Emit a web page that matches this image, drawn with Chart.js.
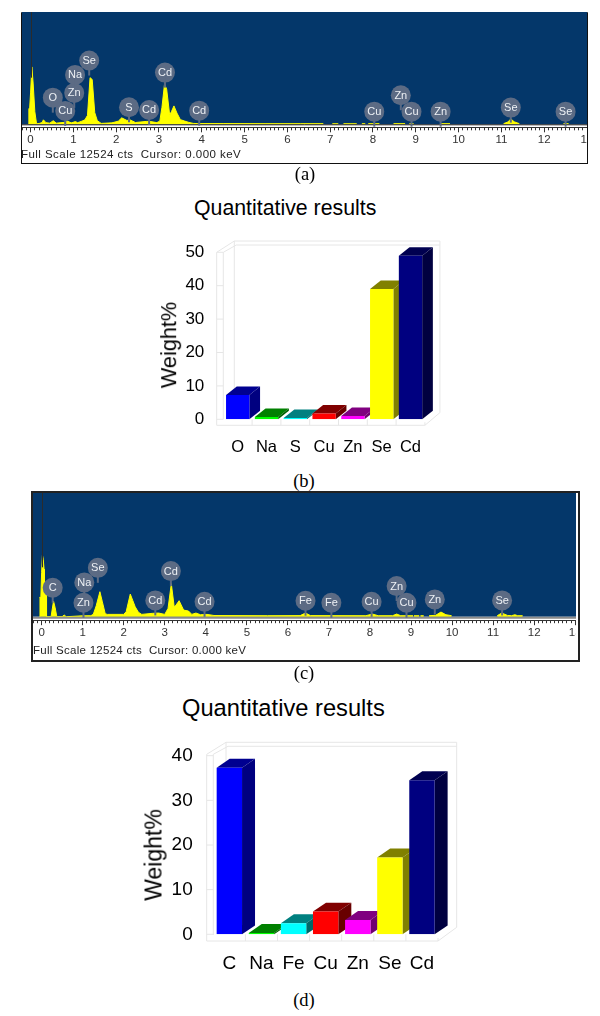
<!DOCTYPE html>
<html>
<head>
<meta charset="utf-8">
<title>EDX spectra and quantitative results</title>
<script src="https://cdn.jsdelivr.net/npm/chart.js@4/dist/chart.umd.min.js"></script>
<style>
  html, body { margin: 0; padding: 0; background: #fff; }
  body { position: relative; width: 600px; height: 1016px; overflow: hidden; font-family: "Liberation Sans", Arial, sans-serif; }
  canvas, .frame, .txt { position: absolute; }
  .txt { white-space: nowrap; color: #000; line-height: 1; }
  .caption { font-family: "Liberation Serif", serif; font-size: 18.5px; transform: translateX(-50%); }
  .status { color: #222; }
  .ylabel { transform: translate(-50%, -50%) rotate(-90deg); }
</style>
</head>
<body>
<div class="frame" style="left:21px;top:12px;width:565px;height:150px;border:1px solid #111;border-top-color:#999;"></div>
<div class="frame" style="left:31px;top:491px;width:545px;height:167px;border:2px solid #222;"></div>

<canvas id="spectrum-a" style="left:22px;top:12px;"></canvas>
<canvas id="spectrum-c" style="left:33px;top:493px;"></canvas>
<canvas id="bars-b" style="left:150px;top:230px;"></canvas>
<canvas id="bars-d" style="left:130px;top:730px;"></canvas>

<div class="txt status" style="left:21px;top:149px;font-size:11.5px;letter-spacing:.45px;">Full Scale 12524 cts&nbsp; Cursor: 0.000 keV</div>
<div class="txt status" style="left:33px;top:645px;font-size:11.5px;letter-spacing:.27px;">Full Scale 12524 cts&nbsp; Cursor: 0.000 keV</div>

<div class="txt caption" style="left:305px;top:165px;">(a)</div>
<div class="txt caption" style="left:304px;top:472px;">(b)</div>
<div class="txt caption" style="left:304px;top:664px;">(c)</div>
<div class="txt caption" style="left:304px;top:991px;">(d)</div>

<div class="txt" style="left:194px;top:198px;font-size:21.3px;">Quantitative results</div>
<div class="txt" style="left:182px;top:697px;font-size:23.7px;">Quantitative results</div>
<div class="txt ylabel" style="left:169px;top:345px;font-size:21.7px;">Weight%</div>
<div class="txt ylabel" style="left:154px;top:855px;font-size:23px;">Weight%</div>

<script>
// Full scale of both spectra
const FULL_SCALE = 12524;

// Spectrum (a): energy in keV and counts, null breaks the trace
const kevA = [-0.05, -0.04, -0.02, 0, 0.03, 0.06, 0.1, 0.14, 0.2, 0.27, 0.3, 0.36, 0.45, 0.53, 0.6, 0.8, 0.85, 0.95, 1.05, 1.1, 1.2, 1.27, 1.33, 1.39, 1.44, 1.5, 1.56, 1.65, 1.9, 2.05, 2.13, 2.25, 2.33, 2.45, 2.7, 2.77, 2.95, 3.02, 3.07, 3.13, 3.18, 3.25, 3.29, 3.35, 3.42, 3.5, 3.6, 3.7, 3.8, 3.9, 4.5, 5.5, 6.3, 6.84, 6.85, 7.05, 7.19, 7.2, 7.31, 7.62, 7.63, 7.74, 7.82, 7.83, 7.89, 8.15, 8.16, 8.48, 8.75, 8.76, 8.85, 8.95, 8.96, 9.57, 9.8, 9.81, 11.05, 11.15, 11.22, 11.3, 11.42, 11.43, 12.45, 12.57];
const countsA = [0, 1700, 1900, 3500, 6400, 4600, 1400, 60, 90, 200, 500, 180, 130, 400, 130, 220, 380, 160, 300, 180, 350, 500, 1000, 5200, 5000, 1300, 400, 100, 160, 350, 720, 430, 480, 200, 320, 330, 190, 350, 1900, 4500, 3900, 1050, 1400, 2050, 1250, 520, 360, 210, 100, 80, 80, 70, 70, 70, null, 60, 60, null, 60, 60, null, 60, 60, null, 70, 70, null, 70, 70, null, 60, 60, null, 70, 70, null, 70, 250, 600, 280, 70, null, 70, 70];
const markerNamesA = ['O', 'Cu', 'Zn', 'Na', 'Se', 'S', 'Cd', 'Cd', 'Cd', 'Cu', 'Zn', 'Cu', 'Zn', 'Se', 'Se'];
const markerKevA = [0.52, 0.81, 1.02, 1.04, 1.37, 2.3, 2.77, 3.14, 3.94, 8.03, 8.65, 8.9, 9.58, 11.22, 12.5];
const markerCountsA = [2970, 1490, 3500, 5510, 7110, 1900, 1600, 5770, 1520, 1410, 3240, 1410, 1410, 1860, 1410];

// Spectrum (c)
const kevC = [-0.05, -0.04, -0.02, 0, 0.02, 0.04, 0.06, 0.07, 0.11, 0.12, 0.23, 0.29, 0.33, 0.37, 0.5, 0.55, 0.6, 1.0, 1.2, 1.26, 1.33, 1.42, 1.48, 1.55, 1.6, 2.0, 2.06, 2.16, 2.22, 2.28, 2.36, 2.44, 2.7, 2.85, 3.0, 3.08, 3.16, 3.23, 3.27, 3.35, 3.46, 3.58, 3.66, 3.76, 3.87, 4.03, 4.2, 5.5, 6.3, 6.43, 6.55, 7.9, 8.06, 8.2, 8.55, 8.65, 8.75, 9.05, 9.06, 9.07, 9.2, 9.21, 9.23, 9.31, 9.32, 9.44, 9.6, 9.73, 9.85, 9.99, 10, 11.1, 11.21, 11.35, 11.45, 11.53, 11.6, 11.72];
const countsC = [0, 2000, 1800, 4500, 6240, 5800, 4800, 2800, 2600, 0, 0, 1580, 900, 0, 0, 170, 0, 90, 100, 250, 1100, 2530, 1500, 300, 235, 235, 500, 2290, 1650, 1000, 440, 235, 340, 370, 235, 840, 3340, 1000, 1150, 1620, 670, 570, 235, 370, 200, 235, 120, 100, 110, 370, 110, 100, 270, 100, 100, 270, 100, 100, null, 100, 100, null, 100, 100, null, 100, 140, 470, 200, 100, null, 100, 370, 130, 100, 200, 100, 100];
const markerNamesC = ['C', 'Zn', 'Na', 'Se', 'Cd', 'Cd', 'Cd', 'Fe', 'Fe', 'Cu', 'Zn', 'Cu', 'Zn', 'Se'];
const markerKevC = [0.27, 1.02, 1.04, 1.37, 2.77, 3.15, 3.97, 6.43, 7.06, 8.04, 8.65, 8.89, 9.58, 11.22];
const markerCountsC = [2930, 1415, 3470, 4950, 1650, 4620, 1515, 1620, 1415, 1515, 3100, 1415, 1750, 1650];

// Quantitative results (b) and (d)
const elementsB = ['O', 'Na', 'S', 'Cu', 'Zn', 'Se', 'Cd'];
const weightB = [7.3, 0.7, 0.4, 1.7, 1.0, 39, 49];
const elementsD = ['C', 'Na', 'Fe', 'Cu', 'Zn', 'Se', 'Cd'];
const weightD = [37.3, 0.3, 2.5, 5.1, 3.2, 17.2, 34.5];

// Bar colours, same order in both bar charts
const frontColors = ['#0000ff', '#00ff00', '#00ffff', '#ff0000', '#ff00ff', '#ffff00', '#000080'];
const topColors = ['#000090', '#008000', '#008080', '#800000', '#800080', '#808000', '#000050'];
const sideColors = ['#000080', '#006000', '#006868', '#680000', '#700070', '#808000', '#000040'];

// Background, cursor line, peak stems and peak names of a spectrum
const spectrumPlugin = {
    id: 'spectrumDecor',
    beforeDatasetsDraw(chart) {
        const { ctx, chartArea, scales } = chart;
        const base = scales.y.getPixelForValue(0);
        ctx.save();
        ctx.fillStyle = '#04376a';
        ctx.fillRect(chartArea.left, chartArea.top, chartArea.width, base - chartArea.top);
        ctx.restore();
    },
    afterDatasetsDraw(chart, args, opts) {
        const { ctx, chartArea, scales } = chart;
        const base = scales.y.getPixelForValue(0);
        ctx.save();
        ctx.strokeStyle = opts.baseColor;
        ctx.lineWidth = opts.baseWidth;
        ctx.beginPath();
        ctx.moveTo(chartArea.left, base + opts.baseWidth / 2);
        ctx.lineTo(chartArea.right, base + opts.baseWidth / 2);
        ctx.stroke();

        // Cursor line, only above the trace
        const zero = Math.round(scales.x.getPixelForValue(0)) + 0.5;
        ctx.strokeStyle = '#2b2b2b';
        ctx.lineWidth = 1;
        ctx.beginPath();
        ctx.moveTo(zero, chartArea.top);
        ctx.lineTo(zero, scales.y.getPixelForValue(opts.cursorTo));
        ctx.stroke();

        // Stems and names sit on the points of the marker dataset
        const points = chart.getDatasetMeta(1).data;
        ctx.strokeStyle = '#5c6b84';
        ctx.lineWidth = 2;
        points.forEach((p) => {
            ctx.beginPath();
            ctx.moveTo(p.x, p.y);
            ctx.lineTo(p.x, p.y + 15);
            ctx.stroke();
        });
        ctx.fillStyle = '#eef1f5';
        ctx.font = '11px "Liberation Sans", Arial, sans-serif';
        ctx.textAlign = 'center';
        ctx.textBaseline = 'middle';
        points.forEach((p, i) => ctx.fillText(opts.names[i], p.x, p.y + 0.5));
        ctx.restore();
    }
};

// Walls of the 3D box behind the bars and the depth faces of the bars
const boxPlugin = {
    id: 'box3d',
    beforeDatasetsDraw(chart, args, opts) {
        const { ctx, chartArea: a, scales } = chart;
        const w = opts.wall;
        const frontX = a.left + w.left;
        const backX = a.left + w.back;
        const backRight = a.right + w.right;
        const topFront = a.top + w.frontTop;
        const topBack = a.top + w.backTop;
        const floorFront = a.bottom + w.floorFront;
        const floorBack = a.bottom + w.floorBack;

        ctx.save();
        ctx.strokeStyle = '#e6e6e6';
        ctx.lineWidth = 1;
        ctx.beginPath();
        ctx.moveTo(frontX, floorFront);
        ctx.lineTo(frontX, topFront);
        ctx.lineTo(backX, topBack);
        ctx.lineTo(backRight, topBack);
        ctx.lineTo(backRight, floorBack);
        ctx.lineTo(a.right, floorFront);
        ctx.lineTo(frontX, floorFront);
        ctx.moveTo(backX, topBack);
        ctx.lineTo(backX, floorBack);
        ctx.moveTo(a.left, topFront);
        ctx.lineTo(a.left, floorFront - 6);
        ctx.moveTo(a.left, topFront);
        ctx.lineTo(backX + 2, topBack + 4);
        ctx.lineTo(backRight, topBack + 4);
        ctx.moveTo(a.right, floorFront);
        ctx.lineTo(a.right, floorFront - 3);

        // Short tick marks on the left wall
        scales.y.ticks.forEach((t) => {
            const y = scales.y.getPixelForValue(t.value);
            ctx.moveTo(frontX, y);
            ctx.lineTo(a.left, y);
        });
        // Category boundaries on the floor
        const step = a.width / scales.x.ticks.length;
        for (let i = 1; i < scales.x.ticks.length; i++) {
            const x = a.left + step * i;
            ctx.moveTo(x, floorFront);
            ctx.lineTo(x, a.bottom);
        }
        ctx.stroke();

        // Depth faces, left to right, the fronts are painted later by Chart.js
        const { dx, dy } = opts.depth;
        chart.getDatasetMeta(0).data.forEach((bar, i) => {
            const { x, y, base, width } = bar.getProps(['x', 'y', 'base', 'width']);
            const left = x - width / 2;
            const right = x + width / 2;
            ctx.fillStyle = topColors[i];
            ctx.beginPath();
            ctx.moveTo(left, y);
            ctx.lineTo(left + dx, y - dy);
            ctx.lineTo(right + dx, y - dy);
            ctx.lineTo(right, y);
            ctx.closePath();
            ctx.fill();
            ctx.fillStyle = sideColors[i];
            ctx.beginPath();
            ctx.moveTo(right, y);
            ctx.lineTo(right + dx, y - dy);
            ctx.lineTo(right + dx, base - dy);
            ctx.lineTo(right, base);
            ctx.closePath();
            ctx.fill();
        });
        ctx.restore();
    }
};

// Same setting for every axis: no room taken for the end labels
function fixedScale(size) {
    return (scale) => {
        if (scale.isHorizontal()) {
            scale.height = size;
        } else {
            scale.width = size;
        }
        scale.paddingLeft = scale.paddingRight = scale.paddingTop = scale.paddingBottom = 0;
    };
}

function drawSpectrum(id, cfg) {
    const canvas = document.getElementById(id);
    canvas.width = cfg.width;
    canvas.height = cfg.height;
    const perPixel = FULL_SCALE / cfg.plotHeight;
    return new Chart(canvas, {
        type: 'scatter',
        data: {
            datasets: [{
                data: cfg.kev.map((k, i) => ({ x: k, y: cfg.counts[i] })),
                showLine: true,
                borderColor: '#ffff00',
                backgroundColor: '#ffff00',
                borderWidth: 1,
                pointRadius: 0,
                tension: 0,
                fill: 'origin',
                order: 2
            }, {
                data: cfg.markerKev.map((k, i) => ({ x: k, y: cfg.markerCounts[i] })),
                pointRadius: 10,
                pointBackgroundColor: '#5c6b84',
                pointBorderWidth: 0,
                order: 1
            }]
        },
        options: {
            responsive: false,
            animation: false,
            layout: { padding: 0, autoPadding: false },
            plugins: {
                legend: { display: false },
                tooltip: { enabled: false },
                spectrumDecor: { names: cfg.markerNames, baseColor: cfg.baseColor, baseWidth: cfg.baseWidth, cursorTo: cfg.cursorTo }
            },
            scales: {
                y: {
                    display: false,
                    min: -cfg.rulerGap * perPixel,
                    max: FULL_SCALE,
                    afterFit: fixedScale(0)
                },
                xMinor: {
                    type: 'linear',
                    position: 'bottom',
                    min: cfg.xMin,
                    max: cfg.xMax,
                    weight: 0,
                    afterFit: fixedScale(0),
                    border: { display: false },
                    grid: { drawOnChartArea: false, tickLength: 3, tickColor: '#333', tickWidth: 1 },
                    ticks: { display: false, stepSize: 0.1, autoSkip: false, includeBounds: false }
                },
                x: {
                    type: 'linear',
                    position: 'bottom',
                    min: cfg.xMin,
                    max: cfg.xMax,
                    weight: 1,
                    afterFit: fixedScale(cfg.height - cfg.plotHeight - cfg.rulerGap),
                    border: { display: true, color: '#333', width: 1 },
                    grid: { drawOnChartArea: false, tickLength: 5, tickColor: '#333', tickWidth: 1 },
                    ticks: {
                        stepSize: 1,
                        autoSkip: false,
                        includeBounds: false,
                        maxRotation: 0,
                        padding: 1,
                        color: '#333',
                        font: { family: '"Liberation Sans", Arial, sans-serif', size: 11.5 }
                    }
                }
            }
        },
        plugins: [spectrumPlugin]
    });
}

function drawBars(id, cfg) {
    const canvas = document.getElementById(id);
    canvas.width = cfg.width;
    canvas.height = cfg.height;
    const family = '"Liberation Sans", Arial, sans-serif';
    return new Chart(canvas, {
        type: 'bar',
        data: {
            labels: cfg.labels,
            datasets: [{
                data: cfg.values,
                backgroundColor: frontColors,
                borderWidth: 0,
                categoryPercentage: 1,
                barPercentage: cfg.barPercentage
            }]
        },
        options: {
            responsive: false,
            animation: false,
            layout: { padding: cfg.padding },
            plugins: {
                legend: { display: false },
                tooltip: { enabled: false },
                box3d: { wall: cfg.wall, depth: cfg.depth }
            },
            scales: {
                y: {
                    min: 0,
                    max: cfg.yMax,
                    afterFit: fixedScale(cfg.yAxisWidth),
                    border: { display: false },
                    grid: { display: false, drawTicks: false },
                    ticks: { stepSize: 10, padding: cfg.yPadding, color: '#000', font: { family, size: cfg.yFontSize } }
                },
                x: {
                    afterFit: fixedScale(cfg.xAxisHeight),
                    border: { display: false },
                    grid: { display: false, drawTicks: false },
                    ticks: { padding: cfg.xPadding, color: '#000', font: { family, size: cfg.xFontSize }, maxRotation: 0, autoSkip: false }
                }
            }
        },
        plugins: [boxPlugin]
    });
}

function run() {
    drawSpectrum('spectrum-a', {
        width: 565, height: 150, plotHeight: 112.3, rulerGap: 3,
        xMin: -0.2, xMax: 13, cursorTo: 5200,
        kev: kevA, counts: countsA,
        markerNames: markerNamesA, markerKev: markerKevA, markerCounts: markerCountsA,
        baseColor: '#1a1a1a', baseWidth: 1
    });
    drawSpectrum('spectrum-c', {
        width: 543, height: 165, plotHeight: 123.7, rulerGap: 3.5,
        xMin: -0.21, xMax: 13.02, cursorTo: 5000,
        kev: kevC, counts: countsC,
        markerNames: markerNamesC, markerKev: markerKevC, markerCounts: markerCountsC,
        baseColor: '#8a8a8a', baseWidth: 2
    });
    drawBars('bars-b', {
        width: 300, height: 235,
        labels: elementsB, values: weightB, yMax: 50, yFontSize: 17, xFontSize: 16.5,
        padding: { top: 22.3, right: 25.1, left: 0, bottom: 0 },
        yAxisWidth: 73.3, xAxisHeight: 45.7, yPadding: 19, xPadding: 18,
        barPercentage: 0.81,
        depth: { dx: 10.7, dy: 8.5 },
        wall: { left: -6.6, back: 11, right: 15, frontTop: 0, backTop: -11.3, floorFront: 6, floorBack: -6.6 }
    });
    drawBars('bars-d', {
        width: 340, height: 260,
        labels: elementsD, values: weightD, yMax: 40, yFontSize: 19, xFontSize: 19,
        padding: { top: 25.7, right: 32, left: 0, bottom: 0 },
        yAxisWidth: 83.3, xAxisHeight: 55.7, yPadding: 20.6, xPadding: 18,
        barPercentage: 0.79,
        depth: { dx: 13, dy: 8.9 },
        wall: { left: -6.6, back: 12.7, right: 18.7, frontTop: -1.4, backTop: -13.4, floorFront: 6.7, floorBack: -7 }
    });
}

document.addEventListener('DOMContentLoaded', run);
</script>
</body>
</html>
